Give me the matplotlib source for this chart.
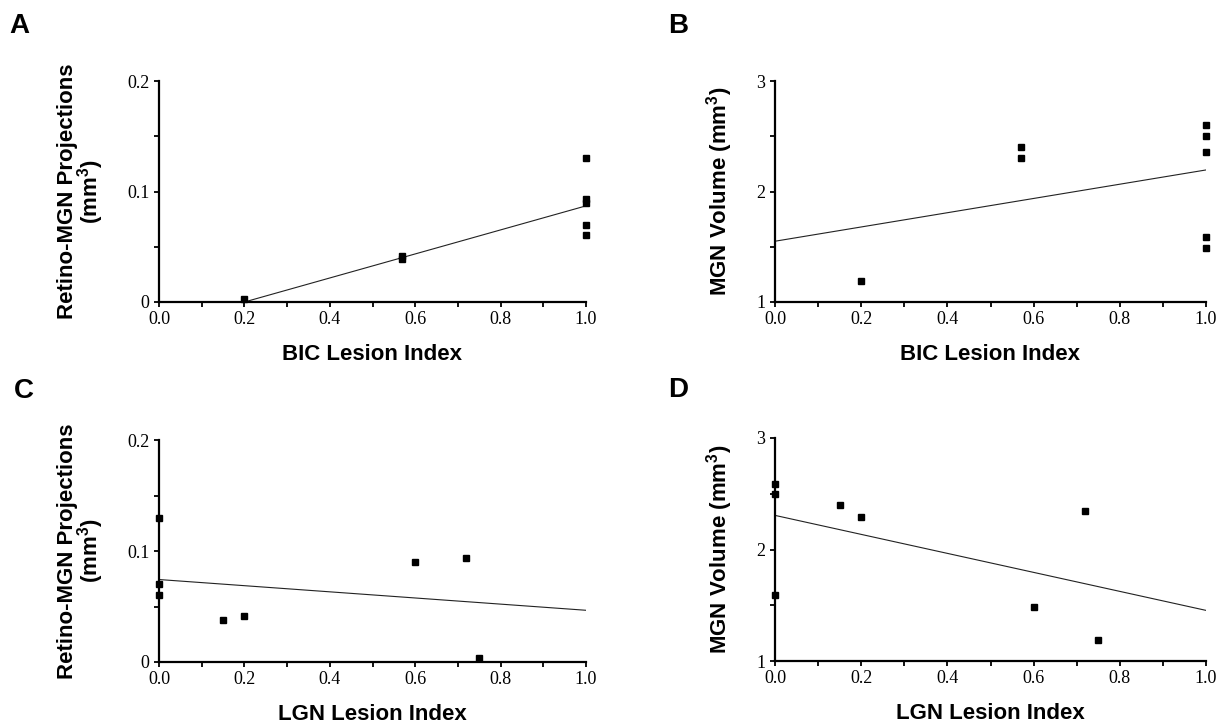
import matplotlib
matplotlib.use("Agg")
import matplotlib.pyplot as plt
from matplotlib.ticker import MultipleLocator, FixedLocator

plt.rcParams['mathtext.fontset'] = 'custom'
plt.rcParams['mathtext.rm'] = 'Liberation Sans:bold'
plt.rcParams['mathtext.bf'] = 'Liberation Sans:bold'

# --- data ---
# A / B: BIC lesion index
bic_x = [0.2, 0.57, 0.57, 1.0, 1.0, 1.0, 1.0, 1.0]
proj_bic = [0.003, 0.042, 0.039, 0.130, 0.093, 0.090, 0.070, 0.061]
mgn_x_bic = [0.2, 0.57, 0.57, 1.0, 1.0, 1.0, 1.0, 1.0]
mgn_bic = [1.19, 2.40, 2.30, 2.60, 2.50, 2.36, 1.59, 1.49]

# C / D: LGN lesion index
lgn_x_proj = [0.0, 0.0, 0.0, 0.15, 0.2, 0.6, 0.72, 0.75]
proj_lgn = [0.130, 0.070, 0.060, 0.038, 0.041, 0.090, 0.094, 0.0036]
lgn_x_mgn = [0.0, 0.0, 0.0, 0.15, 0.2, 0.6, 0.72, 0.75]
mgn_lgn = [2.59, 2.50, 1.595, 2.40, 2.29, 1.487, 2.345, 1.19]

# regression lines (end points)
fit_a_x, fit_a_y = [0.2, 1.0], [0.0, 0.087]
fit_b_x, fit_b_y = [0.0, 1.0], [1.55, 2.195]
fit_c_x, fit_c_y = [0.0, 1.0], [0.0743, 0.0466]
fit_d_x, fit_d_y = [0.0, 1.0], [2.306, 1.454]

proj_label = 'Retino-MGN Projections\n(mm$^{\\mathbf{3}}$)'
mgn_label = 'MGN Volume (mm$^{\\mathbf{3}}$)'

W, H = 1223, 725
fig = plt.figure(figsize=(W / 100, H / 100), dpi=100)


def px_axes(left, right, top, bottom):
    return fig.add_axes([left / W, 1 - bottom / H, (right - left) / W, (bottom - top) / H])


def style(ax, xs, ys, fx, fy, ylim, yticks, yticklabels, yminor, ylabel, xlabel, ylab_x):
    ax.plot(fx, fy, color='#222222', lw=0.8, zorder=2)
    ax.plot(xs, ys, 's', color='black', ms=5.0, clip_on=False, zorder=3)
    ax.set_xlim(0, 1.0)
    ax.set_ylim(*ylim)
    for s in ['top', 'right']:
        ax.spines[s].set_visible(False)
    for s in ['left', 'bottom']:
        ax.spines[s].set_linewidth(1.6)
    ax.set_xticks([0.0, 0.2, 0.4, 0.6, 0.8, 1.0])
    ax.set_xticklabels(['0.0', '0.2', '0.4', '0.6', '0.8', '1.0'])
    ax.xaxis.set_minor_locator(MultipleLocator(0.1))
    ax.set_yticks(yticks)
    ax.set_yticklabels(yticklabels)
    ax.yaxis.set_minor_locator(FixedLocator(yminor))
    ax.tick_params(which='both', direction='out', length=3.5, width=1.3, color='black')
    ax.tick_params(axis='x', pad=3)
    ax.tick_params(axis='y', pad=3.5)
    for lab in ax.get_xticklabels() + ax.get_yticklabels():
        lab.set_fontfamily('Liberation Serif')
        lab.set_fontsize(13)
    ax.set_xlabel(xlabel, fontfamily='Liberation Sans', fontweight='bold', fontsize=16)
    ax.xaxis.set_label_coords(0.5, -0.19)
    ax.set_ylabel(ylabel, fontfamily='Liberation Sans', fontweight='bold', fontsize=16,
                  linespacing=0.85)
    ax.yaxis.set_label_coords(ylab_x, 0.5)


ax_a = px_axes(159, 586, 81, 302)
ax_b = px_axes(775, 1206, 81, 302)
ax_c = px_axes(159, 586, 440, 662)
ax_d = px_axes(775, 1206, 438, 661)

style(ax_a, bic_x, proj_bic, fit_a_x, fit_a_y, (0, 0.2), [0, 0.1, 0.2], ['0', '0.1', '0.2'],
      [0.05, 0.15], proj_label, 'BIC Lesion Index', -0.125)
style(ax_b, mgn_x_bic, mgn_bic, fit_b_x, fit_b_y, (1, 3), [1, 2, 3], ['1', '2', '3'],
      [1.5, 2.5], mgn_label, 'BIC Lesion Index', -0.092)
style(ax_c, lgn_x_proj, proj_lgn, fit_c_x, fit_c_y, (0, 0.2), [0, 0.1, 0.2], ['0', '0.1', '0.2'],
      [0.05, 0.15], proj_label, 'LGN Lesion Index', -0.125)
style(ax_d, lgn_x_mgn, mgn_lgn, fit_d_x, fit_d_y, (1, 3), [1, 2, 3], ['1', '2', '3'],
      [1.5, 2.5], mgn_label, 'LGN Lesion Index', -0.092)

# panel letters
for letter, x, y in [('A', 9, 33), ('B', 668, 33), ('C', 14, 398), ('D', 668, 397)]:
    fig.text(x / W, 1 - y / H, letter, fontfamily='Liberation Sans', fontweight='bold',
             fontsize=20, va='baseline', ha='left')

fig.savefig('out.png', dpi=100)
